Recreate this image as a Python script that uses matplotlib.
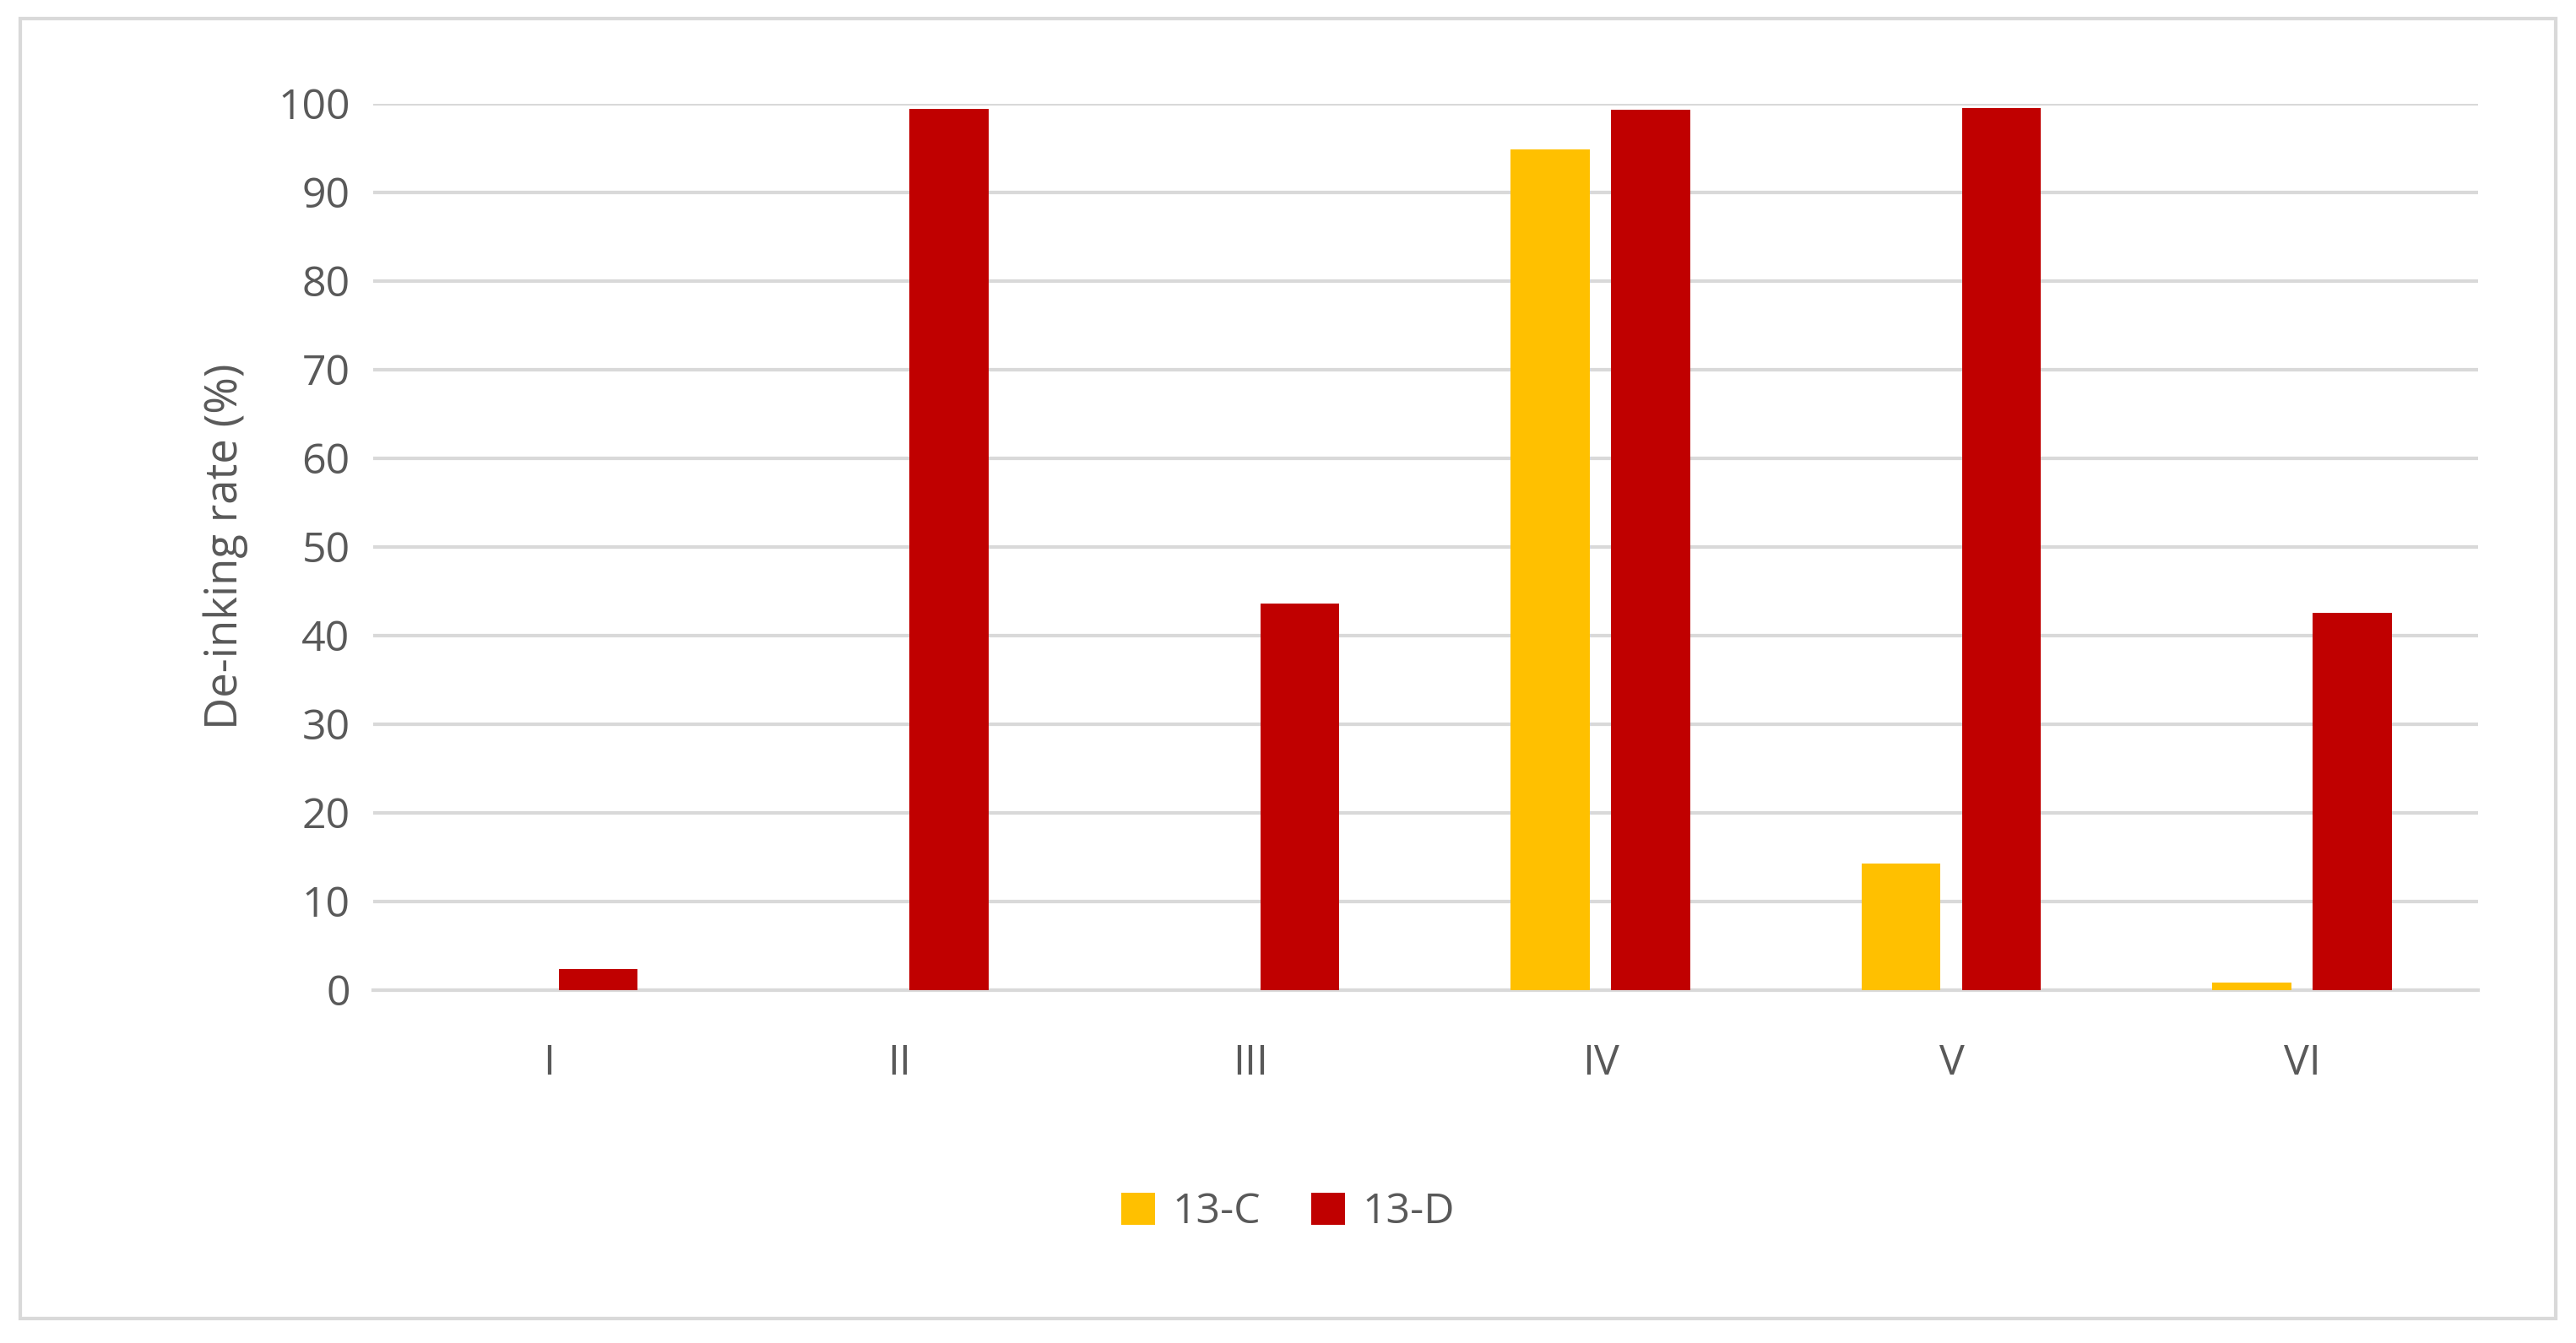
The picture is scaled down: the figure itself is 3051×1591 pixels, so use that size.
import matplotlib
matplotlib.use("Agg")
import matplotlib.pyplot as plt
import numpy as np
from matplotlib.patches import Rectangle

categories = ["I", "II", "III", "IV", "V", "VI"]
c13 = [0, 0, 0, 94.8, 14.2, 0.8]
d13 = [2.3, 99.4, 43.6, 99.3, 99.5, 42.5]

plt.rcParams["font.family"] = ["Open Sans", "DejaVu Sans"]
txt = "#595959"

fig = plt.figure(figsize=(30.51, 15.91), dpi=100)
ax = fig.add_axes([0.145, 0.263, 0.817, 0.66])

x = np.arange(len(categories))
w = 0.225
ax.bar(x - 0.145, c13, w, color="#FFC000", label="13-C", zorder=3)
ax.bar(x + 0.141, d13, w, color="#C00000", label="13-D", zorder=3)

ax.set_xlim(-0.5, len(categories) - 0.5)
ax.set_ylim(0, 100)
ax.set_yticks(range(0, 101, 10))
ax.set_xticks(x)
ax.set_xticklabels(categories)
ax.grid(axis="y", color="#D9D9D9", linewidth=3, zorder=0)
ax.tick_params(axis="both", length=0, labelsize=36, colors=txt)
ax.tick_params(axis="x", pad=45)
ax.tick_params(axis="y", pad=20)
for s in ["top", "right", "left"]:
    ax.spines[s].set_visible(False)
ax.spines["bottom"].set_color("#D9D9D9")
ax.spines["bottom"].set_linewidth(3)
ax.set_ylabel("De-inking rate (%)", fontsize=38, color=txt, labelpad=25)

fig.legend(loc="center", bbox_to_anchor=(0.5, 0.097), ncol=2, frameon=False,
           fontsize=36, labelcolor=txt, handlelength=0.8, handleheight=0.8,
           columnspacing=1.2, handletextpad=0.4)

fig.patches.append(Rectangle((0.008, 0.018), 0.984, 0.968, transform=fig.transFigure,
                             fill=False, edgecolor="#D9D9D9", linewidth=3))

fig.savefig("out.png", dpi=100)
